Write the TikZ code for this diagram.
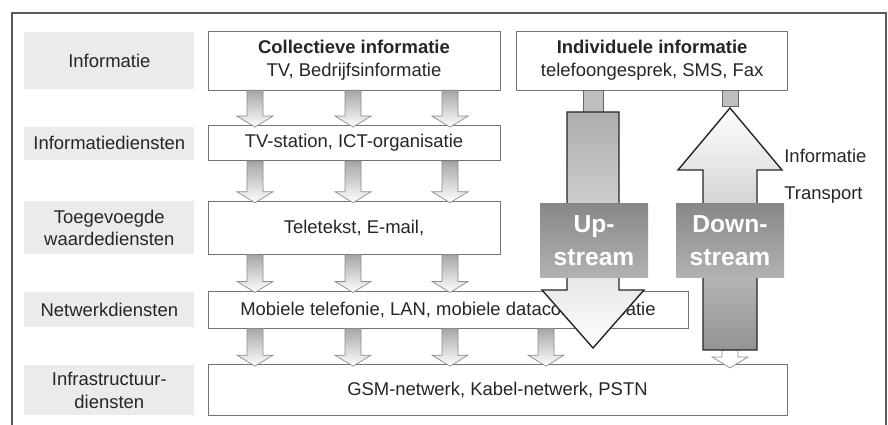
\documentclass[tikz,border=0pt]{standalone}
\usepackage{fontspec}
\setmainfont{Liberation Sans}
\usetikzlibrary{positioning, calc}
\tikzset{fat arrow/.style n args={3}{to path={
          ($(\tikztostart)+(-#1,0)$) -- ($(\tikztotarget)+(-#1,#3)$) -- ($(\tikztotarget)+(-#2,#3)$)
          -- (\tikztotarget) -- ($(\tikztotarget)+(#2,#3)$) -- ($(\tikztotarget)+(#1,#3)$)
          -- ($(\tikztostart)+(#1,0)$) -- cycle
        }
    }
}
\tikzset{layer label/.style={fill=black!8, align=center, minimum width=3.4cm, inner sep=1pt}}
\tikzset{service box/.style={draw=black!55, fill=white, align=center, inner sep=2pt}}
\tikzset{small arrow/.style={draw=black!45, top color=black!35, bottom color=white, fat arrow={8}{18}{-11}}}
\tikzset{big arrow/.style={draw=black!85, line width=0.8pt}}
\tikzset{stub/.style={draw=black!60, fill=black!25}}
\tikzset{stream box/.style={top color=black!47, bottom color=black!30, text=white, align=center,
    font=\fontsize{14}{18.5}\selectfont\bfseries, minimum width=2.16cm, minimum height=1.5cm}}

\begin{document}
\begin{tikzpicture}[x=0.02cm, y=-0.02cm, font=\fontsize{10.5}{13}\selectfont, text=black!85]
    \useasboundingbox (0,0) rectangle (888,425);
    \draw[black!65, line width=0.8pt] (12,425) -- (12,13) -- (886,13) -- (886,425);

    \node[service box, minimum width=5.84cm, minimum height=1.18cm] (coll) at (354,60.5)
    {\textbf{Collectieve informatie} \\ TV, Bedrijfsinformatie};
    \node[service box, minimum width=5.42cm, minimum height=1.18cm, right=0.32cm of coll] (indiv)
    {\textbf{Individuele informatie} \\ telefoongesprek, SMS, Fax};

    \node[service box, minimum width=5.84cm, minimum height=0.7cm, below=0.7cm of coll] (tvst)
    {TV-station, ICT-organisatie};
    \node[service box, minimum width=5.84cm, minimum height=1.06cm, below=0.8cm of tvst] (tele)
    {Teletekst, E-mail,};
    \node[service box, minimum width=9.6cm, minimum height=0.74cm, below=0.72cm of tele.south west,
      anchor=north west] (mob) {Mobiele telefonie, LAN, mobiele datacommunicatie};
    \node[service box, minimum width=11.58cm, minimum height=1.02cm, below=0.72cm of mob.south west,
      anchor=north west] (gsm) {GSM-netwerk, Kabel-netwerk, PSTN};

    \node[layer label, minimum height=1.14cm, left=0.26cm of coll] (l-info) {Informatie};
    \node[layer label, minimum height=0.66cm, left=0.26cm of tvst] (l-dienst) {Informatiediensten};
    \node[layer label, minimum height=1.06cm, left=0.26cm of tele] (l-toeg) {Toegevoegde \\ waardediensten};
    \node[layer label, minimum height=0.7cm, left=0.26cm of mob] (l-net) {Netwerkdiensten};
    \node[layer label, minimum height=1.0cm, left=0.26cm of gsm] (l-infra) {Infrastructuur- \\ diensten};

    \coordinate (col-1) at (255,0);
    \coordinate (col-2) at (353,0);
    \coordinate (col-3) at (450,0);
    \coordinate (col-4) at (546,0);

    \foreach \c in {1,2,3} {
      \draw[small arrow] (coll.south -| col-\c) to ([yshift=-1pt]tvst.north -| col-\c);
      \draw[small arrow] (tvst.south -| col-\c) to ([yshift=-1pt]tele.north -| col-\c);
      \draw[small arrow] (tele.south -| col-\c) to ([yshift=-1pt]mob.north -| col-\c);
    }
    \foreach \c in {1,...,4}
      \draw[small arrow] (mob.south -| col-\c) to ([yshift=-1pt]gsm.north -| col-\c);

    \coordinate (up-top) at (593,112);
    \coordinate (up-tip) at (593,348);
    \draw[stub] ([xshift=-0.2cm]indiv.south -| up-top) rectangle ([xshift=0.2cm]up-top);
    \draw[big arrow, top color=black!32, bottom color=white] (up-top) to[fat arrow={26}{51}{-58}] (up-tip);

    \coordinate (down-stub) at (730,106);
    \coordinate (down-tip) at (730,108);
    \coordinate (down-base) at (730,350);
    \draw[stub] ([xshift=-0.16cm]indiv.south -| down-stub) rectangle ([xshift=0.16cm]down-stub);
    \draw[small arrow, top color=white] (down-base) to ([yshift=-2pt]gsm.north -| down-base);
    \draw[big arrow, top color=white, bottom color=black!42] (down-base) to[fat arrow={27}{52}{62}] (down-tip);

    \node[stream box] (up-label) at (594,240.5) {Up- \\ stream};
    \node[stream box] (down-label) at (730,240.5) {Down- \\ stream};

    \node[anchor=west, inner sep=0pt] (r-info) at (784,156) {Informatie};
    \node[anchor=west, inner sep=0pt] (r-transport) at (784,195) {Transport};
\end{tikzpicture}
\end{document}
